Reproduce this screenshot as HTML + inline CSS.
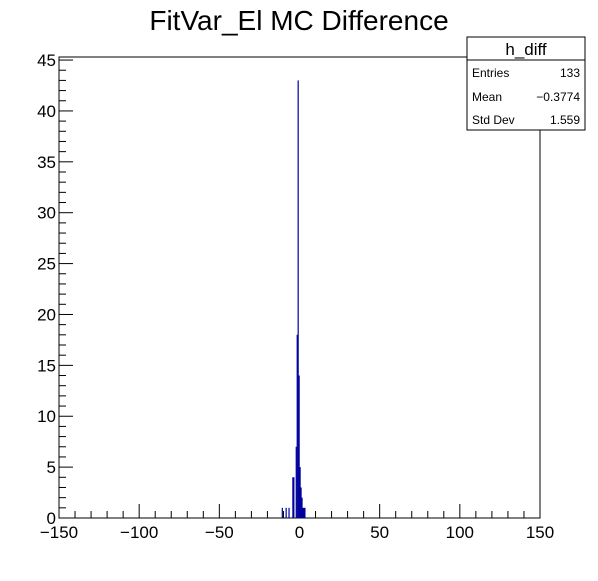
<!DOCTYPE html>
<html><head><meta charset="utf-8"><style>
body{margin:0;background:#fff;font-family:"Liberation Sans",sans-serif}
</style></head><body>
<svg id="c" width="598" height="576" xmlns="http://www.w3.org/2000/svg">
<rect width="598" height="576" fill="#fff"/>
<text x="299" y="30" font-size="28" text-anchor="middle" font-family="Liberation Sans">FitVar_El MC Difference</text>
<g id="frame"></g>
<g id="bars"></g>
<g id="stats">
<rect x="467" y="37" width="118" height="93" fill="#fff" stroke="#000"/>
<line x1="467" y1="60" x2="585" y2="60" stroke="#000"/>
<text x="526" y="55" font-size="17" text-anchor="middle">h_diff</text>
<text x="472" y="77" font-size="12">Entries</text><text x="580" y="77" font-size="12" text-anchor="end">133</text>
<text x="472" y="101" font-size="12">Mean</text><text x="580" y="101" font-size="12" text-anchor="end">−0.3774</text>
<text x="472" y="124" font-size="12">Std Dev</text><text x="580" y="124" font-size="12" text-anchor="end">1.559</text>
</g>
</svg>
<script>
const binCenters=[-10.8,-8.4,-6.6,-4.2,-3.6,-2.1,-1.5,-0.9,-0.3,0.3,0.9,1.5,2.1,2.7,3.3];
const binValues=[1,1,1,4,4,7,18,43,14,5,3,2,1,1,1];
const xTicks=[-150,-100,-50,0,50,100,150];
const yTicks=[0,5,10,15,20,25,30,35,40,45];
const binWidth=0.6;
const L=59,R=540,T=57,B=518,xmin=-150,xmax=150,ymax=45.3;
const X=v=>L+(v-xmin)/(xmax-xmin)*(R-L);
const Y=v=>B-v/ymax*(B-T);
const ns="http://www.w3.org/2000/svg";
function mk(t,a,p){const e=document.createElementNS(ns,t);for(const k in a)e.setAttribute(k,a[k]);p.appendChild(e);return e;}
const fr=document.getElementById('frame');
const box=mk('rect',{x:L,y:T,width:R-L,height:B-T,fill:'none',stroke:'#000'},fr);


for(let v=xmin;v<=xmax;v+=10){const maj=v%50===0;mk('line',{x1:X(v),x2:X(v),y1:B,y2:B-(maj?14:7),stroke:'#000'},fr);}
for(let v=0;v<=45;v+=1){const maj=v%5===0;mk('line',{x1:L,x2:L+(maj?14:7),y1:Y(v),y2:Y(v),stroke:'#000'},fr);}
xTicks.forEach(v=>{const t=mk('text',{x:X(v),y:538,'font-size':17,'text-anchor':'middle'},fr);t.textContent=v<0?'−'+(-v):v;

});
yTicks.forEach(v=>{const t=mk('text',{x:L-3,y:Y(v)+6,'font-size':17,'text-anchor':'end'},fr);t.textContent=v;

});
const bg=document.getElementById('bars');
binCenters.forEach((c,i)=>{
const x0=X(c-binWidth/2),x1=X(c+binWidth/2),y=Y(binValues[i]);
const r=mk('rect',{x:x0,y:y,width:Math.max(1.2,x1-x0),height:B-y,fill:'#00009c'},bg);


});
</script>
</body></html>
